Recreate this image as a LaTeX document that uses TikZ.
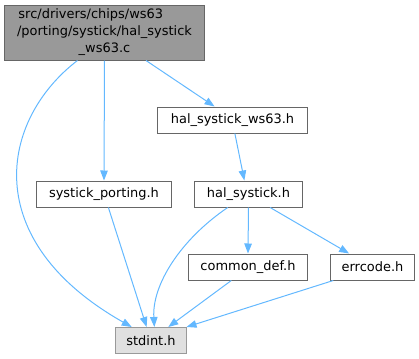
\documentclass[tikz,border=0pt]{standalone}
\usepackage{fontspec}
\setmainfont{DejaVu Sans}
\usetikzlibrary{arrows.meta}
\begin{document}
\begin{tikzpicture}[x=1bp,y=-1bp,
  box/.style={draw=color1,fill=white,line width=1bp,inner sep=0pt,minimum height=26bp,font=\fontsize{13}{17}\selectfont},
  edge/.style={color0,line width=1bp,-{Triangle[length=10bp,width=7.5bp]}}]
\definecolor{color0}{HTML}{63B8FF}
\definecolor{color1}{HTML}{666666}
\definecolor{color2}{HTML}{999999}
\definecolor{color3}{HTML}{E0E0E0}
\useasboundingbox (0,0) rectangle (419,359);
\node[box,fill=color2,minimum width=199bp,minimum height=55bp,text width=176bp,align=center] (src) at (104.5,32.5) {\makebox[176bp][l]{\hspace{2bp}src/drivers/chips/ws63}\\/porting/systick/hal\_systick\\\_ws63.c};
\node[box,minimum width=149bp] (halws) at (232.5,120) {hal\_systick\_ws63.h};
\node[box,minimum width=134bp] (port) at (104,194) {systick\_porting.h};
\node[box,minimum width=107bp] (hal) at (248.5,194) {hal\_systick.h};
\node[box,minimum width=118bp] (common) at (248,267) {common\_def.h};
\node[box,minimum width=83bp] (err) at (372.5,267) {errcode.h};
\node[box,draw=color2,fill=color3,minimum width=70bp] (stdint) at (151,340.5) {stdint.h};
\draw[edge] (src.226) .. controls (0,120) and (-22,240) .. (stdint.145);
\draw[edge] (src.south) -- (port.north);
\draw[edge] (src.-34) -- (halws.143);
\draw[edge] (halws.-80) -- (hal.107);
\draw[edge] (port.-72) -- (stdint.108);
\draw[edge] (hal.213) .. controls (180,240) and (152,285) .. (stdint.76);
\draw[edge] (hal.south) -- (common.north);
\draw[edge] (hal.-32) -- (err.150);
\draw[edge] (common.219) -- (stdint.38);
\draw[edge] (err.199) -- (stdint.north east);
\end{tikzpicture}
\end{document}
